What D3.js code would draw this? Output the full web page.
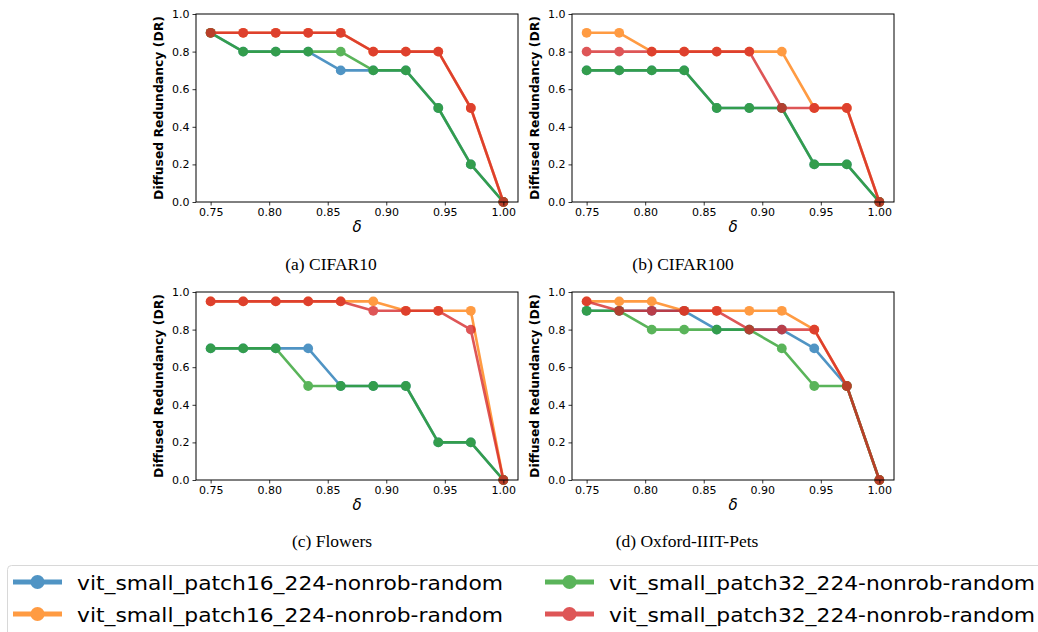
<!DOCTYPE html>
<html>
<head>
<meta charset="utf-8">
<script src="https://cdn.jsdelivr.net/npm/d3@7"></script>
<style>
  html, body { margin: 0; padding: 0; background: #fff; }
  svg { display: block; }
</style>
</head>
<body>
<div id="root"></div>
<script>
"use strict";

// delta values (x axis), 10 evenly spaced points from 0.75 to 1.00
const deltas = [0.75, 0.7778, 0.8056, 0.8333, 0.8611, 0.8889, 0.9167, 0.9444, 0.9722, 1.0];
const xTicks = [0.75, 0.80, 0.85, 0.90, 0.95, 1.00];
const yTicks = [0.0, 0.2, 0.4, 0.6, 0.8, 1.0];

const seriesNames = [
  "vit_small_patch16_224-nonrob-random",
  "vit_small_patch16_224-nonrob-random",
  "vit_small_patch32_224-nonrob-random",
  "vit_small_patch32_224-nonrob-random",
];
const seriesColors = ["#1f77b4", "#ff7f0e", "#2ca02c", "#d62728"];

const captions = ["(a) CIFAR10", "(b) CIFAR100", "(c) Flowers", "(d) Oxford-IIIT-Pets"];

const cifar10Blue   = [0.9, 0.8, 0.8, 0.8, 0.7, 0.7, 0.7, 0.5, 0.2, 0.0];
const cifar10Orange = [0.9, 0.9, 0.9, 0.9, 0.9, 0.8, 0.8, 0.8, 0.5, 0.0];
const cifar10Green  = [0.9, 0.8, 0.8, 0.8, 0.8, 0.7, 0.7, 0.5, 0.2, 0.0];
const cifar10Red    = [0.9, 0.9, 0.9, 0.9, 0.9, 0.8, 0.8, 0.8, 0.5, 0.0];

const cifar100Blue   = [0.7, 0.7, 0.7, 0.7, 0.5, 0.5, 0.5, 0.2, 0.2, 0.0];
const cifar100Orange = [0.9, 0.9, 0.8, 0.8, 0.8, 0.8, 0.8, 0.5, 0.5, 0.0];
const cifar100Green  = [0.7, 0.7, 0.7, 0.7, 0.5, 0.5, 0.5, 0.2, 0.2, 0.0];
const cifar100Red    = [0.8, 0.8, 0.8, 0.8, 0.8, 0.8, 0.5, 0.5, 0.5, 0.0];

const flowersBlue   = [0.7, 0.7, 0.7, 0.7, 0.5, 0.5, 0.5, 0.2, 0.2, 0.0];
const flowersOrange = [0.95, 0.95, 0.95, 0.95, 0.95, 0.95, 0.9, 0.9, 0.9, 0.0];
const flowersGreen  = [0.7, 0.7, 0.7, 0.5, 0.5, 0.5, 0.5, 0.2, 0.2, 0.0];
const flowersRed    = [0.95, 0.95, 0.95, 0.95, 0.95, 0.9, 0.9, 0.9, 0.8, 0.0];

const petsBlue   = [0.9, 0.9, 0.9, 0.9, 0.8, 0.8, 0.8, 0.7, 0.5, 0.0];
const petsOrange = [0.95, 0.95, 0.95, 0.9, 0.9, 0.9, 0.9, 0.8, 0.5, 0.0];
const petsGreen  = [0.9, 0.9, 0.8, 0.8, 0.8, 0.8, 0.7, 0.5, 0.5, 0.0];
const petsRed    = [0.95, 0.9, 0.9, 0.9, 0.9, 0.8, 0.8, 0.8, 0.5, 0.0];

const panelSeries = [
  [cifar10Blue, cifar10Orange, cifar10Green, cifar10Red],
  [cifar100Blue, cifar100Orange, cifar100Green, cifar100Red],
  [flowersBlue, flowersOrange, flowersGreen, flowersRed],
  [petsBlue, petsOrange, petsGreen, petsRed],
];

const width = 1038;
const height = 632;
const plotW = 322;
const plotH = 188;
const panelPos = [
  { left: 196, top: 14 },
  { left: 572, top: 14 },
  { left: 196, top: 292 },
  { left: 572, top: 292 },
];
const captionPos = [
  { x: 331, y: 270 },
  { x: 683, y: 270 },
  { x: 332, y: 547 },
  { x: 687, y: 547 },
];
const alpha = 0.78;

const svg = d3.select("#root")
  .append("svg")
  .attr("width", width)
  .attr("height", height)
  .style("font-family", "'DejaVu Sans', sans-serif");

svg.append("rect").attr("width", width).attr("height", height).attr("fill", "#fff");

const x = d3.scaleLinear().domain([0.7375, 1.0125]).range([0, plotW]);
const y = d3.scaleLinear().domain([0, 1]).range([plotH, 0]);

panelSeries.forEach((seriesList, p) => {
  const { left, top } = panelPos[p];
  const g = svg.append("g").attr("transform", `translate(${left},${top})`);

  const line = d3.line().x((d, i) => x(deltas[i])).y((d) => y(d));

  seriesList.forEach((values, s) => {
    const sg = g.append("g").attr("opacity", alpha);
    sg.append("path")
      .datum(values)
      .attr("d", line)
      .attr("fill", "none")
      .attr("stroke", seriesColors[s])
      .attr("stroke-width", 2.6)
      .attr("stroke-linejoin", "round");
    sg.selectAll("circle")
      .data(values)
      .enter()
      .append("circle")
      .attr("cx", (d, i) => x(deltas[i]))
      .attr("cy", (d) => y(d))
      .attr("r", 4.9)
      .attr("fill", seriesColors[s]);
  });

  const xAxis = d3.axisBottom(x).tickValues(xTicks).tickFormat(d3.format(".2f")).tickSizeOuter(0).tickSize(3.5).tickPadding(3);
  const yAxis = d3.axisLeft(y).tickValues(yTicks).tickFormat(d3.format(".1f")).tickSizeOuter(0).tickSize(3.5).tickPadding(3);

  const gx = g.append("g").attr("transform", `translate(0,${plotH})`).call(xAxis);
  const gy = g.append("g").call(yAxis);
  [gx, gy].forEach((ax) => {
    ax.select(".domain").remove();
    ax.selectAll("text").attr("font-size", 11).attr("font-family", "'DejaVu Sans', sans-serif").attr("fill", "#000");
    ax.selectAll("line").attr("stroke", "#000").attr("stroke-width", 0.8);
  });

  g.append("rect")
    .attr("width", plotW)
    .attr("height", plotH)
    .attr("fill", "none")
    .attr("stroke", "#000")
    .attr("stroke-width", 1);

  g.append("text")
    .attr("transform", `translate(-33,${plotH / 2}) rotate(-90)`)
    .attr("text-anchor", "middle")
    .attr("font-weight", "bold")
    .attr("font-size", 12.4)
    .text("Diffused Redundancy (DR)");

  g.append("text")
    .attr("x", plotW / 2)
    .attr("y", plotH + 30)
    .attr("text-anchor", "middle")
    .attr("font-style", "italic")
    .attr("font-size", 15)
    .text("δ");

  svg.append("text")
    .attr("x", captionPos[p].x)
    .attr("y", captionPos[p].y)
    .attr("text-anchor", "middle")
    .attr("font-family", "'Liberation Serif', 'Times New Roman', serif")
    .attr("font-size", 17.5)
    .text(captions[p]);
});

// legend
const legend = svg.append("g");
legend.append("rect")
  .attr("x", 7.5)
  .attr("y", 565.5)
  .attr("width", 1050)
  .attr("height", 80)
  .attr("rx", 4)
  .attr("fill", "#fff")
  .attr("stroke", "#d8d8d8")
  .attr("stroke-width", 1);

const legendCols = [13, 545];
const legendRows = [582, 614];
seriesNames.forEach((name, i) => {
  const col = Math.floor(i / 2);
  const row = i % 2;
  const lx = legendCols[col];
  const ly = legendRows[row];
  const lg = legend.append("g");
  const mark = lg.append("g").attr("opacity", alpha);
  mark.append("line")
    .attr("x1", lx).attr("x2", lx + 49)
    .attr("y1", ly).attr("y2", ly)
    .attr("stroke", seriesColors[i])
    .attr("stroke-width", 5);
  mark.append("circle")
    .attr("cx", lx + 24.5).attr("cy", ly)
    .attr("r", 7)
    .attr("fill", seriesColors[i]);
  lg.append("text")
    .attr("x", lx + 64)
    .attr("y", ly + 8)
    .attr("font-size", 19.5)
    .attr("textLength", 426)
    .attr("lengthAdjust", "spacingAndGlyphs")
    .text(name);
});
</script>
</body>
</html>
